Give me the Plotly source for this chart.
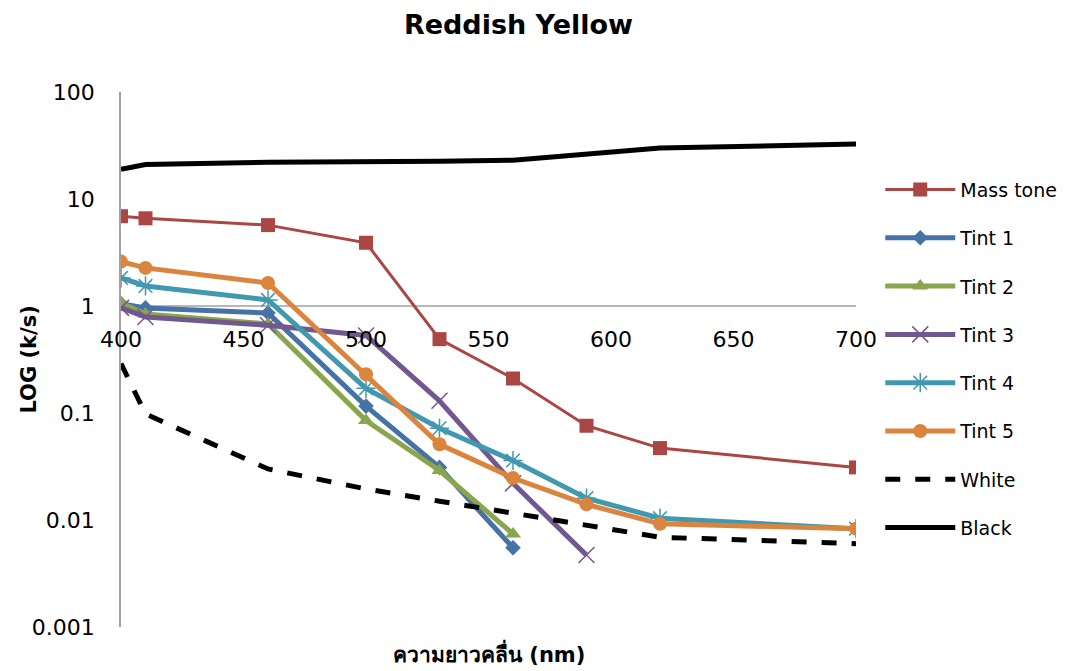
import plotly.graph_objects as go

# Wavelengths (nm)
wavelength = [400, 410, 460, 500, 530, 560, 590, 620, 700]
wl_short = [400, 410, 460, 500, 530, 560]
wl_t3 = [400, 410, 460, 500, 530, 560, 590]

# k/s values per series
mass_tone = [6.9, 6.6, 5.7, 3.9, 0.49, 0.21, 0.076, 0.047, 0.031]
tint1 = [1.05, 0.96, 0.86, 0.116, 0.031, 0.0055]
tint2 = [1.07, 0.84, 0.68, 0.085, 0.029, 0.0074]
tint3 = [0.96, 0.79, 0.66, 0.53, 0.13, 0.022, 0.0047]
tint4 = [1.83, 1.54, 1.14, 0.17, 0.072, 0.036, 0.016, 0.0104, 0.0083]
tint5 = [2.6, 2.27, 1.64, 0.23, 0.051, 0.0247, 0.014, 0.0092, 0.0083]
white = [0.29, 0.098, 0.030, 0.0195, 0.015, 0.0116, 0.0088, 0.0069, 0.006]
black = [19, 21, 22, 22, 22.5, 23, 26, 30, 32.6]

x_ticks = [400, 450, 500, 550, 600, 650, 700]
y_ticks = [0.001, 0.01, 0.1, 1, 10, 100]
y_tick_text = ["0.001", "0.01", "0.1", "1", "10", "100"]

FONT = "Tahoma, 'DejaVu Sans', 'Noto Sans', sans-serif"

fig = go.Figure()

series = [
    ("Mass tone", wavelength, mass_tone, "#AA4643", 3, "square", 14, 0),
    ("Tint 1", wl_short, tint1, "#4572A7", 5, "diamond", 12, 0),
    ("Tint 2", wl_short, tint2, "#89A54E", 5, "triangle-up", 14, 0),
    ("Tint 3", wl_t3, tint3, "#71588F", 5, "x-thin-open", 16, 1.5),
    ("Tint 4", wavelength, tint4, "#4198AF", 5, "asterisk-open", 16, 1.5),
    ("Tint 5", wavelength, tint5, "#DB843D", 5, "circle", 14, 0),
]

for name, xs, ys, color, lw, sym, size, mlw in series:
    marker = dict(symbol=sym, size=size, color=color)
    if mlw:
        marker["line"] = dict(width=mlw, color=color)
    fig.add_trace(go.Scatter(
        x=xs, y=ys, name=name, mode="lines+markers",
        line=dict(color=color, width=lw), marker=marker,
        legendgroup=name,
    ))

fig.add_trace(go.Scatter(
    x=wavelength, y=white, name="White", mode="lines",
    line=dict(color="black", width=5, dash="dash"), legendgroup="White",
))
fig.add_trace(go.Scatter(
    x=wavelength, y=black, name="Black", mode="lines",
    line=dict(color="black", width=5), legendgroup="Black",
))

# horizontal axis crossing at k/s = 1
fig.add_shape(type="line", xref="x", yref="y", x0=400, x1=700, y0=1, y1=1,
              line=dict(color="#A0A0A0", width=1.5), layer="below")

fig.update_layout(
    width=1069, height=671,
    margin=dict(l=121, r=213, t=92, b=44, autoexpand=False),
    paper_bgcolor="white", plot_bgcolor="white",
    font=dict(family=FONT, size=20, color="black"),
    title=dict(text="<b>Reddish Yellow</b>", x=0.485, xanchor="center",
               y=0.963, yanchor="middle", font=dict(size=27)),
    showlegend=True,
    legend=dict(x=1.033, xanchor="left", y=0.853, yanchor="top",
                font=dict(size=19), tracegroupgap=20.6, itemwidth=70,
                bgcolor="rgba(0,0,0,0)"),
    xaxis=dict(range=[400, 700], tickvals=x_ticks, showgrid=False,
               zeroline=False, showline=False, automargin=False,
               ticks="outside", ticklen=14, tickcolor="rgba(0,0,0,0)",
               anchor="free", position=0.6, tickfont=dict(size=22)),
    yaxis=dict(type="log", range=[-3, 2], tickvals=y_ticks, ticktext=y_tick_text,
               showgrid=False, zeroline=False, showline=True, automargin=False,
               linecolor="#A0A0A0", linewidth=1.5,
               ticks="outside", ticklen=20, tickcolor="rgba(0,0,0,0)",
               tickfont=dict(size=22), domain=[0, 1]),
)

# axis titles
fig.add_annotation(text="<b>LOG (k/s)</b>", xref="paper", yref="paper",
                   x=-0.1265, y=0.5, xanchor="center", yanchor="middle",
                   textangle=-90, showarrow=False, font=dict(size=21))
fig.add_annotation(text="<b>ความยาวคลื่น (nm)</b>", xref="paper", yref="paper",
                   x=0.5, y=0, xanchor="center", yanchor="top", yshift=-10,
                   showarrow=False, font=dict(size=21))

fig.write_html("out.html")
